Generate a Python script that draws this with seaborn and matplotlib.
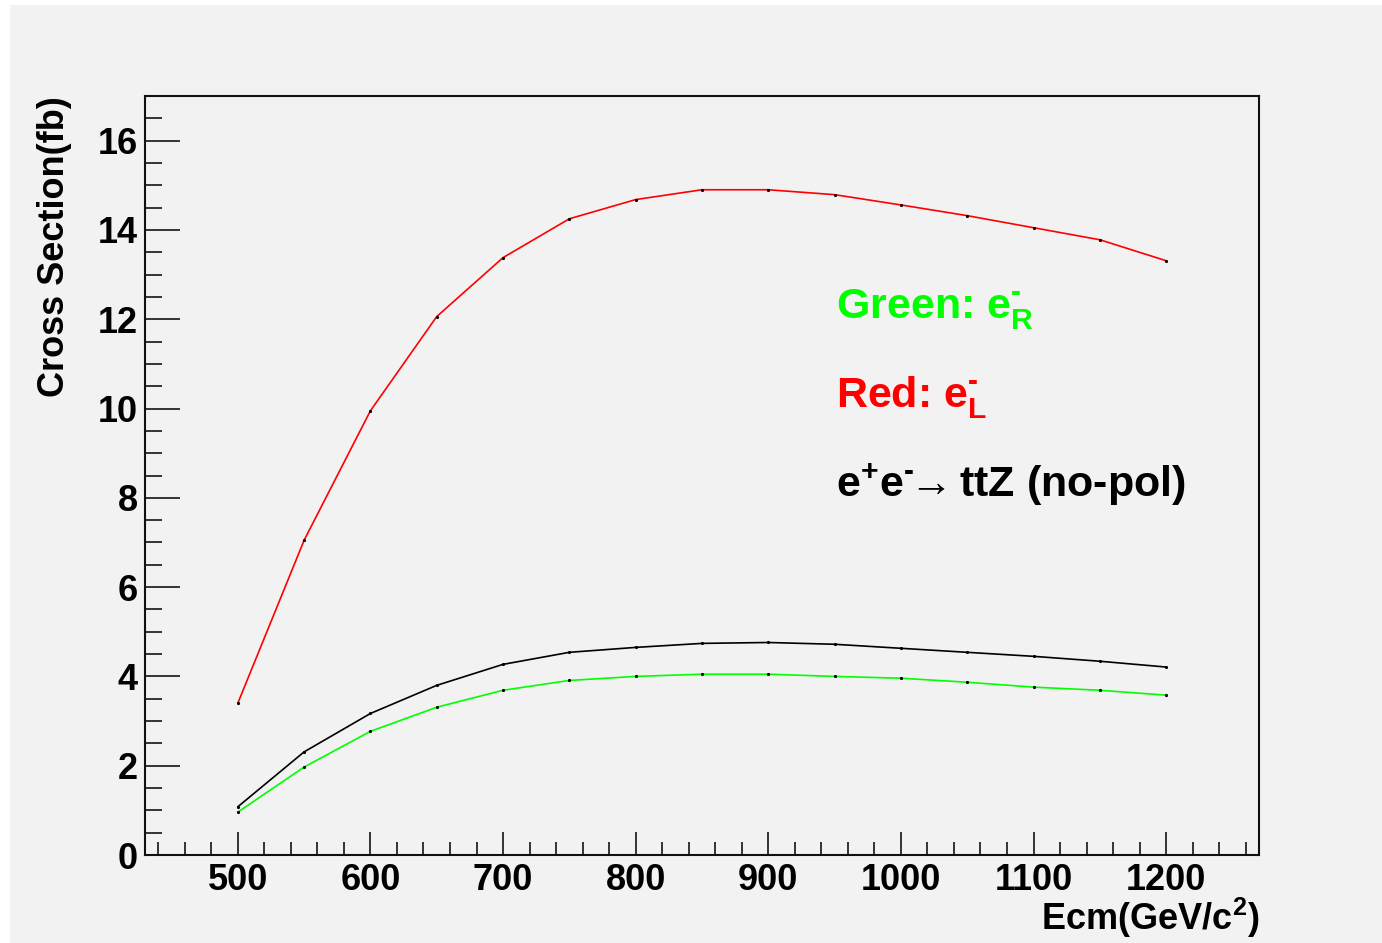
import numpy as np
import pandas as pd
import seaborn as sns
import matplotlib.pyplot as plt
from matplotlib.patches import Rectangle
from matplotlib.ticker import MultipleLocator

# -----------------------------------------
# Data
# -----------------------------------------
ecm = [500, 550, 600, 650, 700, 750, 800, 850, 900, 950, 1000, 1050, 1100, 1150, 1200]
xsec_left = [3.40, 7.05, 9.95, 12.06, 13.38, 14.25, 14.68, 14.90, 14.90, 14.79, 14.56, 14.32, 14.05, 13.78, 13.31]
xsec_nopol = [1.08, 2.31, 3.17, 3.80, 4.27, 4.54, 4.65, 4.74, 4.76, 4.72, 4.63, 4.54, 4.45, 4.34, 4.21]
xsec_right = [0.96, 1.97, 2.77, 3.31, 3.69, 3.91, 4.00, 4.05, 4.05, 4.00, 3.96, 3.87, 3.76, 3.69, 3.58]

df = pd.DataFrame({
    "ecm": ecm,
    "left": xsec_left,
    "nopol": xsec_nopol,
    "right": xsec_right,
})

# -----------------------------------------
# Style
# -----------------------------------------
sns.set_style("ticks")
plt.rcParams["font.family"] = ["Liberation Sans", "DejaVu Sans"]
plt.rcParams["font.weight"] = "bold"
plt.rcParams["mathtext.fontset"] = "custom"
plt.rcParams["mathtext.rm"] = "Liberation Sans:bold"
plt.rcParams["mathtext.bf"] = "Liberation Sans:bold"
plt.rcParams["mathtext.it"] = "Liberation Sans:bold"

BG = "#f2f2f2"

fig = plt.figure(figsize=(13.82, 9.43), dpi=100, facecolor="white")
fig.patches.append(Rectangle((10 / 1382, 0), 1 - 10 / 1382, 1 - 5 / 943,
                             transform=fig.transFigure, facecolor=BG,
                             edgecolor="none", zorder=-10))
ax = fig.add_axes([0.1049, 0.0933, 0.8061, 0.8049])
ax.set_facecolor(BG)

# -----------------------------------------
# Curves
# -----------------------------------------
for col, colour in [("nopol", "black"), ("right", "#00ff00"), ("left", "#ff0000")]:
    sns.lineplot(data=df, x="ecm", y=col, ax=ax, color=colour, linewidth=1.2,
                 marker="o", markersize=1.5, markerfacecolor="black",
                 markeredgecolor="black")

ax.set_xlim(430, 1270)
ax.set_ylim(0, 17)
ax.xaxis.set_major_locator(MultipleLocator(100))
ax.xaxis.set_minor_locator(MultipleLocator(20))
ax.yaxis.set_major_locator(MultipleLocator(2))
ax.yaxis.set_minor_locator(MultipleLocator(0.5))

ax.tick_params(axis="both", which="both", direction="in", width=1.1,
               top=False, right=False, labelsize=26, colors="black")
ax.tick_params(axis="y", which="major", length=25, pad=5)
ax.tick_params(axis="y", which="minor", length=12.5)
ax.tick_params(axis="x", which="major", length=16.5, pad=6)
ax.tick_params(axis="x", which="minor", length=9.5)
for s in ax.spines.values():
    s.set_linewidth(1.5)
    s.set_color("#111111")

ax.set_xlabel("Ecm(GeV/c$^{2}$)", fontsize=26, fontweight="bold", color="black")
ax.xaxis.label.set(ha="right", va="center")
ax.xaxis.set_label_coords(1.0, -0.083)
ax.set_ylabel("Cross Section(fb)", fontsize=26, fontweight="bold", color="black")
ax.yaxis.label.set(ha="right", va="center")
ax.yaxis.set_label_coords(-0.081, 1.0)

# -----------------------------------------
# Annotations
# -----------------------------------------
ax.text(0.620, 0.7075, r"Green: e$_{R}^{\text{-}}$", transform=ax.transAxes,
        fontsize=31, fontweight="bold", color="#00ff00", va="baseline")
ax.text(0.620, 0.590, r"Red: e$_{L}^{\text{-}}$", transform=ax.transAxes,
        fontsize=31, fontweight="bold", color="#ff0000", va="baseline")
ax.text(0.620, 0.4717, r"e$^{+}$e$^{\text{-}}\!\!\rightarrow\!\!$ ttZ (no-pol)",
        transform=ax.transAxes, fontsize=31, fontweight="bold",
        color="black", va="baseline")

plt.savefig("out.png", dpi=100, facecolor="white")
plt.close()
